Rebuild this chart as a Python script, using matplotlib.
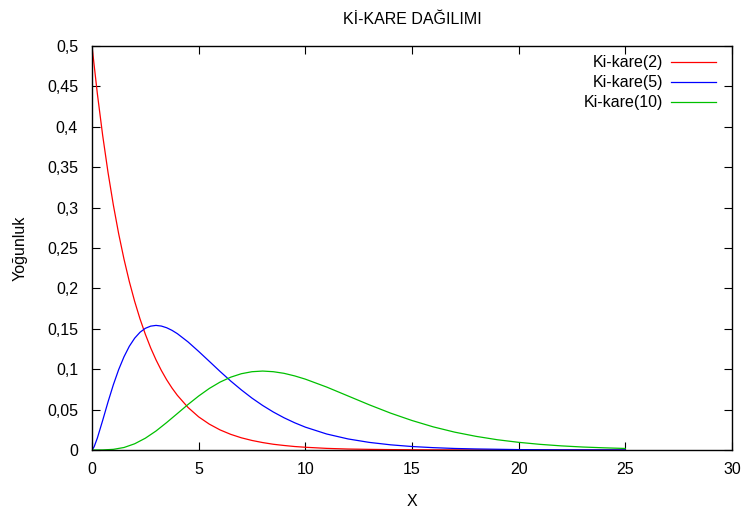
import matplotlib
matplotlib.use("Agg")
import matplotlib.pyplot as plt
from matplotlib.ticker import FuncFormatter

plt.rcParams['font.family'] = ['Liberation Sans', 'DejaVu Sans']

# values
x_k2 = [0, 0.25, 0.5, 0.75, 1, 1.25, 1.5, 1.75, 2, 2.25, 2.5, 2.75, 3, 3.25, 3.5, 3.75,
        4, 4.5, 5, 5.5, 6, 6.5, 7, 7.5, 8, 8.5, 9, 9.5,
        10, 11, 12, 13, 14, 15, 16, 18, 20, 25]
y_k2 = [0.5, 0.4412, 0.3894, 0.3437, 0.3033, 0.2676, 0.2362, 0.2084, 0.1839, 0.1623,
        0.1433, 0.1264, 0.1116, 0.0985, 0.0869, 0.0767, 0.0677, 0.0527,
        0.0410, 0.0320, 0.0249, 0.0194, 0.0151, 0.0118, 0.0092, 0.0071, 0.0056, 0.0043,
        0.0034, 0.0020, 0.0012, 0.0008, 0.0005, 0.0003, 0.0002, 0.0001, 0.0, 0.0]

x_k5 = [0, 0.1, 0.25, 0.5, 0.75, 1, 1.25, 1.5, 1.75, 2, 2.25, 2.5, 2.75, 3, 3.25, 3.5,
        3.75, 4, 4.5, 5, 5.5, 6, 6.5, 7, 7.5, 8, 8.5, 9,
        9.5, 10, 11, 12, 13, 14, 15, 16, 17, 18, 20, 22, 25]
y_k5 = [0.0, 0.0040, 0.0147, 0.0366, 0.0594, 0.0807, 0.0995, 0.1154, 0.1284, 0.1384,
        0.1457, 0.1506, 0.1533, 0.1542, 0.1534, 0.1513, 0.1481, 0.1440,
        0.1338, 0.1220, 0.1097, 0.0973, 0.0854, 0.0744, 0.0642, 0.0551, 0.0470, 0.0399,
        0.0337, 0.0283, 0.0198, 0.0137, 0.0094, 0.0064, 0.0043, 0.0029, 0.0019, 0.0013,
        0.0005, 0.0002, 0.0001]

x_k10 = [0, 0.5, 1, 1.5, 2, 2.5, 3, 3.5, 4, 4.5, 5, 5.5, 6, 6.5, 7, 7.5, 8, 8.5, 9, 9.5,
         10, 11, 12, 13, 14, 15, 16, 17, 18, 19, 20, 21, 22, 23, 24, 25]
y_k10 = [0.0, 0.0001, 0.0008, 0.0031, 0.0077, 0.0146, 0.0235, 0.0340, 0.0451, 0.0563,
         0.0668, 0.0762, 0.0840, 0.0901, 0.0944, 0.0969, 0.0977, 0.0969, 0.0949, 0.0917,
         0.0877, 0.0779, 0.0669, 0.0559, 0.0456, 0.0365, 0.0286, 0.0221, 0.0169, 0.0127,
         0.0095, 0.0070, 0.0051, 0.0037, 0.0027, 0.0019]

series = [
    ("Ki-kare(2)", x_k2, y_k2, "#ff0000"),
    ("Ki-kare(5)", x_k5, y_k5, "#0000ff"),
    ("Ki-kare(10)", x_k10, y_k10, "#00c000"),
]

fig = plt.figure(figsize=(7.42, 5.09), dpi=100)
ax = fig.add_axes([92 / 742, 59 / 509, 640 / 742, 404 / 509])

for label, xs, ys, color in series:
    ax.plot(xs, ys, color=color, linewidth=0.9)

ax.set_xlim(0, 30)
ax.set_ylim(0, 0.5)
ax.set_xticks(range(0, 31, 5))
ax.set_yticks([i * 0.05 for i in range(11)])
ax.yaxis.set_major_formatter(FuncFormatter(lambda v, p: ("%g" % round(v, 2)).replace(".", ",")))

ax.tick_params(direction="in", length=6, width=0.8, top=True, right=True,
               labelsize=11.5, colors="black")
ax.tick_params(axis="x", pad=9)
ax.tick_params(axis="y", pad=10)
for s in ax.spines.values():
    s.set_linewidth(1.0)

ax.set_xlabel("X", fontsize=11.5, labelpad=12)
ax.set_ylabel("Yoğunluk", fontsize=11.5, labelpad=14)
ax.set_title("Kİ-KARE DAĞILIMI", fontsize=11.5, pad=16)

# gnuplot style key: right aligned text, sample line on the right
for i, (label, xs, ys, color) in enumerate(series):
    ty = 1 - (16 + 20 * i) / 404
    ax.text(1 - 69 / 640, ty, label, transform=ax.transAxes, ha="right", va="center",
            fontsize=11.5)
    ax.plot([1 - 61 / 640, 1 - 16 / 640], [ty, ty], transform=ax.transAxes,
            color=color, linewidth=0.9)

fig.savefig("out.png", dpi=100)
